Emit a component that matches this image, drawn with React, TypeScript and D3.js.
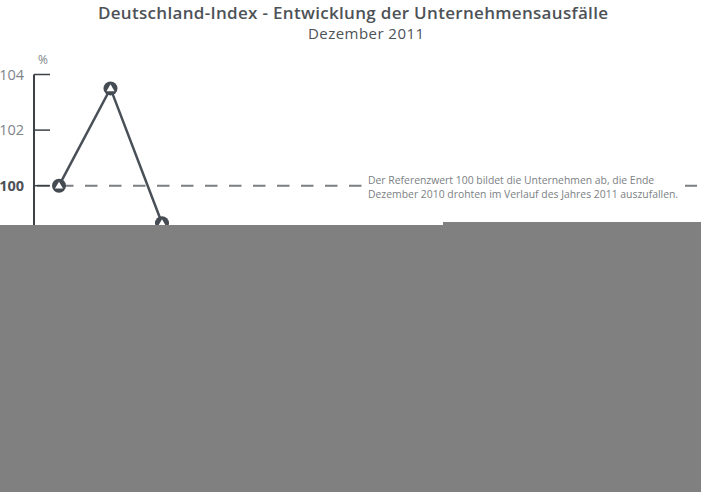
import React, { useEffect, useRef } from "react";
import * as d3 from "d3";

// Monatswerte Dezember 2010 bis Dezember 2011 (nur die ersten sind im Bild lesbar)
const months = ["Dez 10", "Jan", "Feb", "Mär", "Apr", "Mai", "Jun", "Jul", "Aug", "Sep", "Okt", "Nov", "Dez 11"];
const indexValues = [100, 103.5, 98.65, 96.8, 95.9, 95.2, 94.6, 94.1, 93.5, 93.0, 92.6, 92.1, 91.7];
const yTicks = [100, 102, 104];
const referenceValue = 100;
const title = "Deutschland-Index - Entwicklung der Unternehmensausfälle";
const subtitle = "Dezember 2011";
const noteLines = [
  "Der Referenzwert 100 bildet die Unternehmen ab, die Ende",
  "Dezember 2010 drohten im Verlauf des Jahres 2011 auszufallen.",
];

const width = 701;
const height = 492;
const font = "'Open Sans', sans-serif";

const App: React.FC = () => {
  const svgRef = useRef<SVGSVGElement>(null);

  useEffect(() => {
    if (!svgRef.current) return;
    const svg = d3.select(svgRef.current);
    svg.selectAll("*").remove();

    svg.append("rect").attr("width", width).attr("height", height).attr("fill", "#ffffff");

    const axisX = 34;

    const xScale = d3.scaleLinear()
      .domain([0, months.length - 1])
      .range([59, 59 + 51.5 * (months.length - 1)]);

    const yScale = d3.scaleLinear()
      .domain([90, 104])
      .range([74.5 + 14 * 27.8, 74.5]);

    // title
    svg.append("text")
      .attr("x", 353)
      .attr("y", 18.5)
      .attr("text-anchor", "middle")
      .attr("fill", "#4d5257")
      .style("font-family", font)
      .style("font-size", "17px")
      .style("font-weight", 600)
      .attr("textLength", 510)
      .text(title);

    svg.append("text")
      .attr("x", 366)
      .attr("y", 38.5)
      .attr("text-anchor", "middle")
      .attr("fill", "#4d5257")
      .style("font-family", font)
      .style("font-size", "15px")
      .attr("textLength", 116)
      .text(subtitle);

    // reference line
    svg.append("line")
      .attr("x1", axisX + 3)
      .attr("x2", 697)
      .attr("y1", yScale(referenceValue))
      .attr("y2", yScale(referenceValue))
      .attr("stroke", "#7a7f84")
      .attr("stroke-width", 2)
      .attr("stroke-dasharray", "12.5 11.5");

    // note with white background
    svg.append("rect")
      .attr("x", 362)
      .attr("y", 172)
      .attr("width", 320)
      .attr("height", 30)
      .attr("fill", "#ffffff");

    noteLines.forEach((t, i) => {
      svg.append("text")
        .attr("x", 368)
        .attr("y", 184 + i * 13.5)
        .attr("fill", "#7b7f84")
        .style("font-family", font)
        .style("font-size", "10.4px")
        .text(t);
    });

    // y axis
    svg.append("line")
      .attr("x1", axisX)
      .attr("x2", axisX)
      .attr("y1", yScale(104))
      .attr("y2", height)
      .attr("stroke", "#3c4147")
      .attr("stroke-width", 2);

    yTicks.forEach(v => {
      svg.append("line")
        .attr("x1", axisX)
        .attr("x2", axisX + 16)
        .attr("y1", yScale(v))
        .attr("y2", yScale(v))
        .attr("stroke", "#3c4147")
        .attr("stroke-width", 1.5);
      svg.append("text")
        .attr("x", 24)
        .attr("y", yScale(v))
        .attr("dy", "0.35em")
        .attr("text-anchor", "end")
        .attr("fill", v === referenceValue ? "#4d5257" : "#80858a")
        .style("font-family", font)
        .style("font-size", "14.5px")
        .style("font-weight", v === referenceValue ? 700 : 400)
        .text(v);
    });

    svg.append("text")
      .attr("x", 43)
      .attr("y", 64)
      .attr("text-anchor", "middle")
      .attr("fill", "#80858a")
      .style("font-family", font)
      .style("font-size", "12px")
      .text("%");

    // data line
    const line = d3.line<number>()
      .x((_, i) => xScale(i))
      .y(d => yScale(d));

    svg.append("path")
      .datum(indexValues)
      .attr("fill", "none")
      .attr("stroke", "#4a5058")
      .attr("stroke-width", 2.5)
      .attr("d", line);

    const markers = svg.append("g")
      .selectAll("g")
      .data(indexValues)
      .join("g")
      .attr("transform", (d, i) => `translate(${xScale(i)},${yScale(d)})`);

    markers.append("circle")
      .attr("r", 7)
      .attr("fill", "#454b52");

    markers.append("path")
      .attr("d", d3.symbol().type(d3.symbolTriangle).size(28))
      .attr("transform", "translate(0,0.6)")
      .attr("fill", "#ffffff");

    // grey cover over lower part
    svg.append("rect")
      .attr("x", 0)
      .attr("y", 225)
      .attr("width", width)
      .attr("height", height - 225)
      .attr("fill", "#808080");
    svg.append("rect")
      .attr("x", 443)
      .attr("y", 222)
      .attr("width", width - 443)
      .attr("height", height - 222)
      .attr("fill", "#808080");
  }, []);

  return (
    <svg
      ref={svgRef}
      width={width}
      height={height}
      style={{ position: "absolute", left: 0, top: 0, display: "block" }}
    />
  );
};

export default App;
